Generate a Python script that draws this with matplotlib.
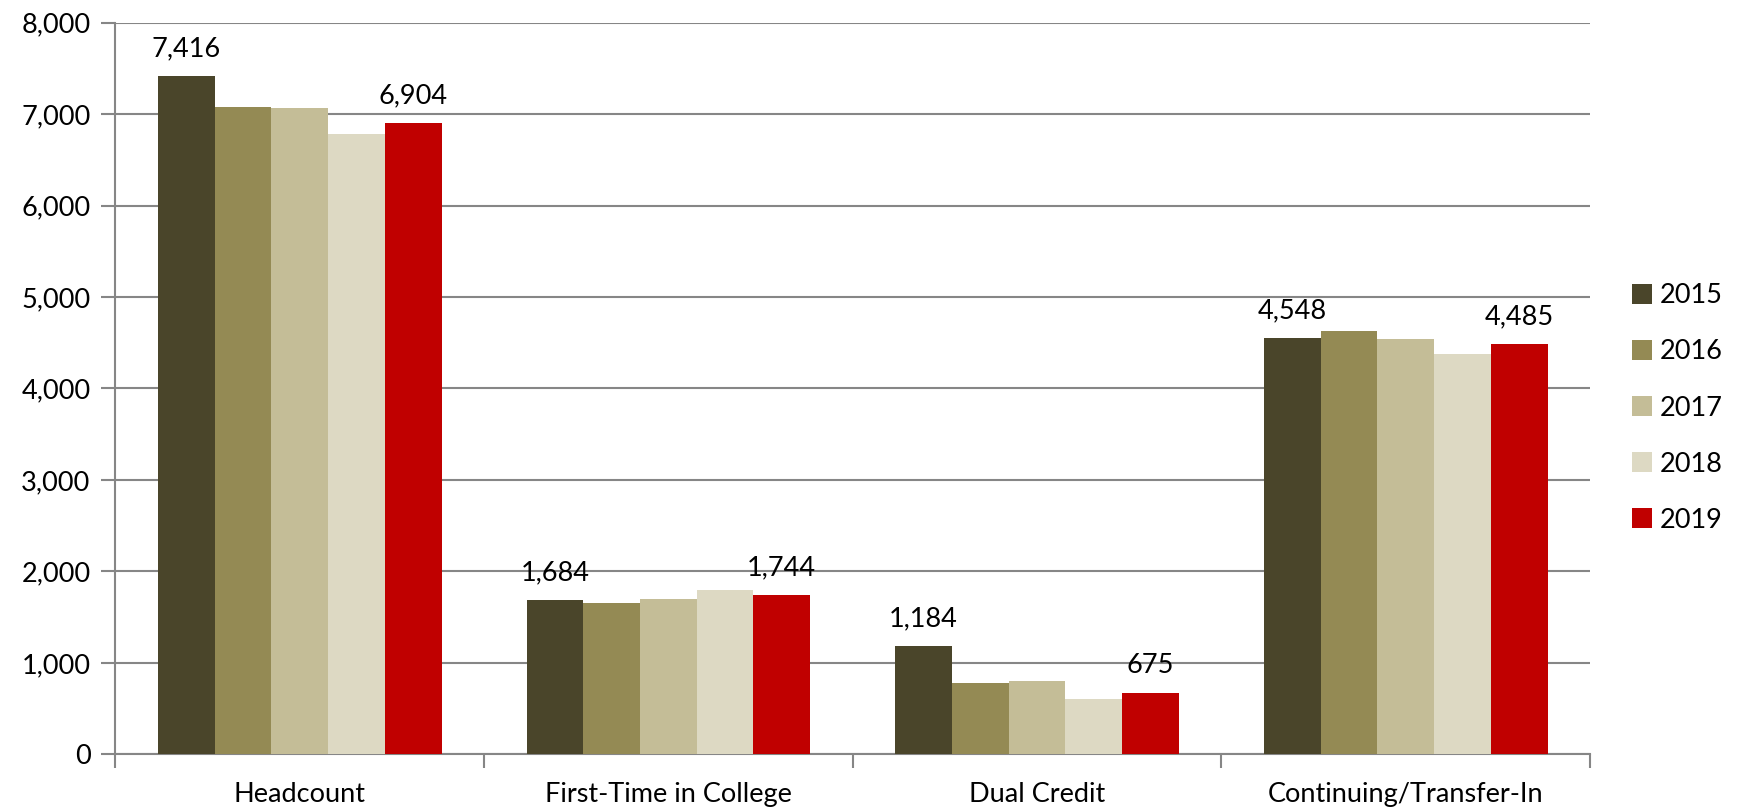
import matplotlib.pyplot as plt
import numpy as np
from matplotlib.ticker import FuncFormatter

categories = ['Headcount', 'First-Time in College', 'Dual Credit', 'Continuing/Transfer-In']
years = ['2015', '2016', '2017', '2018', '2019']
v2015 = [7416, 1684, 1184, 4548]
v2016 = [7080, 1655, 782, 4633]
v2017 = [7062, 1699, 804, 4545]
v2018 = [6778, 1794, 603, 4373]
v2019 = [6904, 1744, 675, 4485]
colors = ['#4A452A', '#948A54', '#C4BD97', '#DDD9C3', '#C00000']

series = [v2015, v2016, v2017, v2018, v2019]
labelled = [True, False, False, False, True]

plt.rcParams['font.family'] = ['Lato', 'DejaVu Sans']
fs = 19.5
grey = '#868686'

fig = plt.figure(figsize=(17.41, 8.08), dpi=100)
ax = fig.add_axes([0.0663, 0.0665, 0.9133 - 0.0663, 0.9719 - 0.0665])

x = np.arange(len(categories))
w = 1 / 6.5
for i, (vals, yr) in enumerate(zip(series, years)):
    pos = x + (i - 2) * w
    bars = ax.bar(pos, vals, width=w, color=colors[i], label=yr, zorder=3)
    if labelled[i]:
        for b, v in zip(bars, vals):
            ax.text(b.get_x() + b.get_width() / 2, v + 160, f'{v:,}',
                    ha='center', va='bottom', fontsize=fs, color='black')

ax.set_xlim(-0.5, len(categories) - 0.5)
ax.set_ylim(0, 8000)
ax.set_yticks(np.arange(0, 8001, 1000))
ax.yaxis.set_major_formatter(FuncFormatter(lambda v, p: f'{int(v):,}'))
ax.yaxis.grid(True, color=grey, linewidth=1.5, zorder=0)

# category labels centred, tick marks at the boundaries
ax.set_xticks(x)
ax.set_xticklabels(categories, fontsize=fs)
ax.tick_params(axis='x', which='major', length=0, pad=20)
ax.set_xticks(np.arange(len(categories) + 1) - 0.5, minor=True)
ax.tick_params(axis='x', which='minor', length=10, width=1.5, color=grey, direction='out')
ax.tick_params(axis='y', length=10, width=1.5, color=grey, labelsize=fs, pad=8)

for s in ['top', 'right']:
    ax.spines[s].set_visible(False)
for s in ['left', 'bottom']:
    ax.spines[s].set_color(grey)
    ax.spines[s].set_linewidth(1.5)

fig.legend(loc='center left', bbox_to_anchor=(0.931, 0.495), frameon=False,
           fontsize=fs, handlelength=0.75, handleheight=0.75, handletextpad=0.3,
           labelspacing=1.15, borderaxespad=0)

fig.savefig('out.png', dpi=100)
